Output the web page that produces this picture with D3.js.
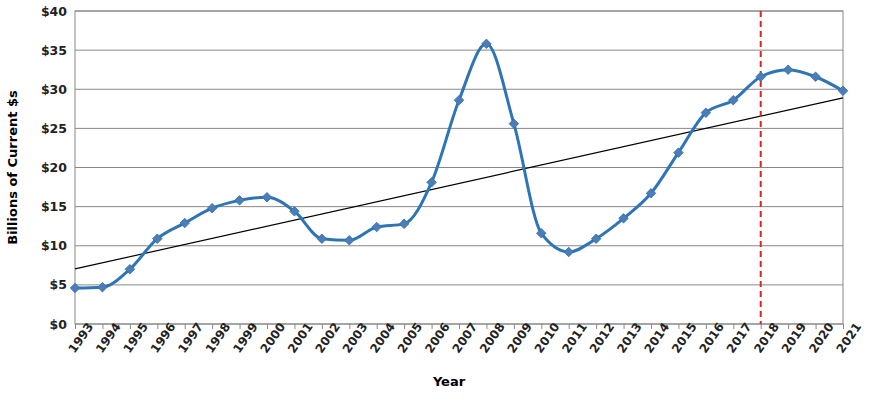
<!DOCTYPE html>
<html><head><meta charset="utf-8">
<script src="https://cdn.jsdelivr.net/npm/d3@7"></script>
<style>body{margin:0;background:#fff}text{font-family:"DejaVu Sans",sans-serif}</style>
</head><body><svg width="870" height="406"></svg>
<script>
const years = d3.range(1993, 2022)
const values = [4.6, 4.7, 7.0, 10.9, 12.9, 14.8, 15.8, 16.2, 14.4, 10.9, 10.7, 12.4, 12.8, 18.1,
  28.6, 35.8, 25.6, 11.6, 9.2, 10.9, 13.5, 16.7, 21.9, 27.0, 28.6, 31.6, 32.5, 31.6, 29.8]
const yTicks = [0, 5, 10, 15, 20, 25, 30, 35, 40]
const markYear = 2018

const marginLeft = 75, marginRight = 27, marginTop = 11, marginBottom = 82
const width = 870 - marginLeft - marginRight
const height = 406 - marginTop - marginBottom

const svg = d3.select("svg").append("g")
  .attr("transform", `translate(${marginLeft}, ${marginTop})`)

const x = d3.scaleLinear().domain([1993, 2021]).range([0, width])
const y = d3.scaleLinear().domain([0, 40]).range([height, 0])

// gridlines
svg.selectAll(".grid").data(yTicks).enter().append("line")
  .attr("x1", 0).attr("x2", width)
  .attr("y1", d => y(d)).attr("y2", d => y(d))
  .attr("stroke", "#888").attr("stroke-width", 1)
svg.append("rect").attr("width", width).attr("height", height)
  .attr("fill", "none").attr("stroke", "#888")

const yAxis = svg.append("g").call(d3.axisLeft(y).tickValues(yTicks).tickFormat(d => "$" + d).tickSize(0).tickPadding(8))
yAxis.select(".domain").remove()
yAxis.selectAll("text").attr("font-size", 12.5).attr("font-weight", "bold").attr("fill", "#222")

const xAxis = svg.append("g").attr("transform", `translate(0, ${height})`)
  .call(d3.axisBottom(x).tickValues(years).tickFormat(d => d).tickSize(5))
xAxis.select(".domain").remove()
xAxis.selectAll("line").attr("stroke", "#888")
xAxis.selectAll("text").attr("font-size", 12).attr("font-weight", "bold").attr("fill", "#222")
  .attr("text-anchor", "end").attr("dx", "0.7em").attr("dy", "0.7em")
  .attr("transform", "rotate(-55)")

// trend line (least squares)
const mx = d3.mean(years), my = d3.mean(values)
const slope = d3.sum(years, (d, i) => (d - mx) * (values[i] - my)) / d3.sum(years, d => (d - mx) ** 2)
const icpt = my - slope * mx
svg.append("line")
  .attr("x1", x(1993)).attr("y1", y(icpt + slope * 1993))
  .attr("x2", x(2021)).attr("y2", y(icpt + slope * 2021))
  .attr("stroke", "#000").attr("stroke-width", 1.2)

svg.append("line")
  .attr("x1", x(markYear)).attr("x2", x(markYear))
  .attr("y1", y(40)).attr("y2", y(0))
  .attr("stroke", "#d62728").attr("stroke-width", 2).attr("stroke-dasharray", "6,4")

svg.append("path").datum(values)
  .attr("d", d3.line().x((d, i) => x(years[i])).y(d => y(d)).curve(d3.curveMonotoneX))
  .attr("fill", "none").attr("stroke", "#2e75b6").attr("stroke-width", 3)

svg.selectAll(".pt").data(values).enter().append("path")
  .attr("d", d3.symbol(d3.symbolSquare, 45))
  .attr("transform", (d, i) => `translate(${x(years[i])},${y(d)}) rotate(45)`)
  .attr("fill", "#4a7ebb").attr("stroke", "#3a6ea5").attr("stroke-width", 0.8)

svg.append("text").attr("transform", `translate(-58, ${height / 2}) rotate(-90)`)
  .attr("text-anchor", "middle").attr("font-size", 13).attr("font-weight", "bold")
  .text("Billions of Current $s")
svg.append("text").attr("x", width / 2 - 10).attr("y", height + 62)
  .attr("text-anchor", "middle").attr("font-size", 13).attr("font-weight", "bold").text("Year")
</script></body></html>
